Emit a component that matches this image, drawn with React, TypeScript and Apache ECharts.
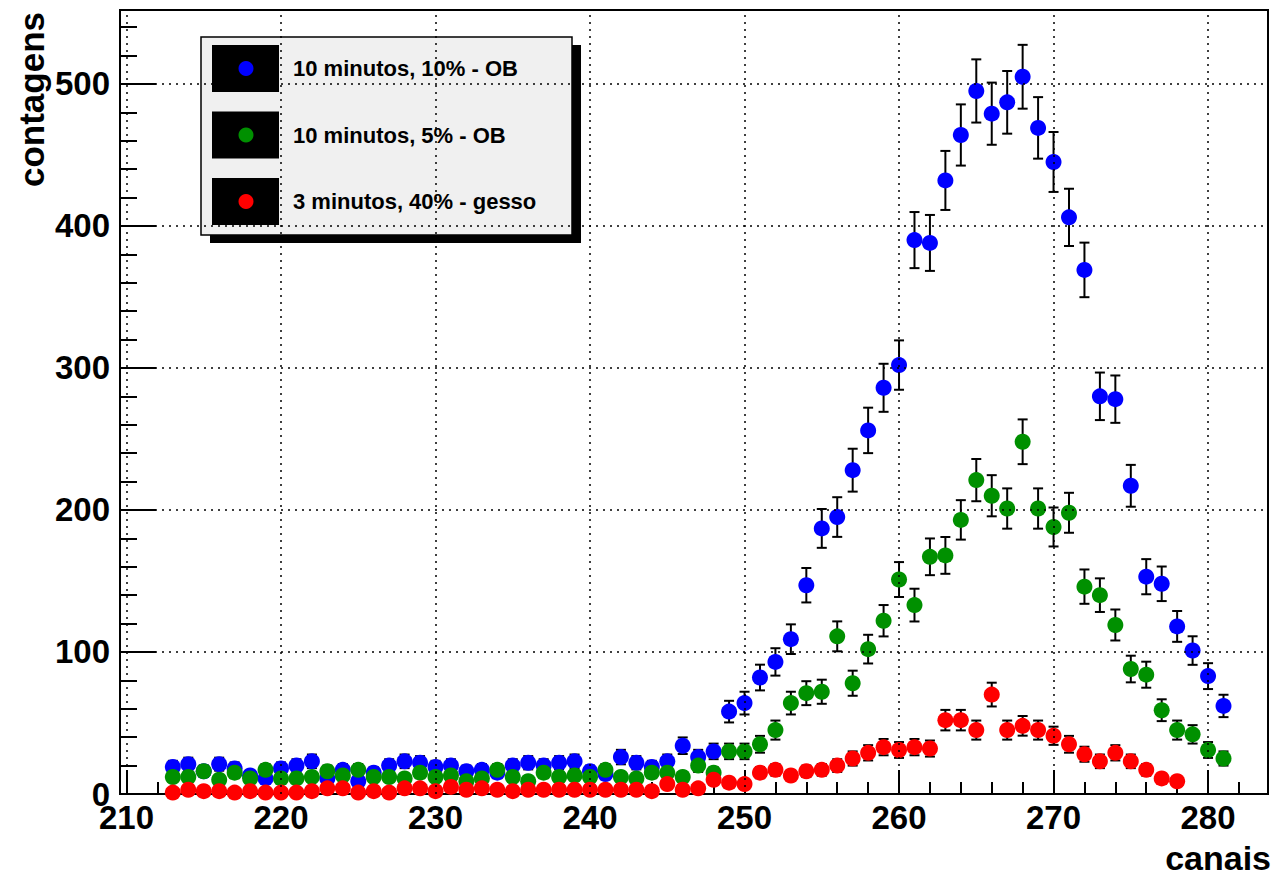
import React, { useEffect, useRef } from "react";
import * as echarts from "echarts";

// ---- data (channels and counts) ----
const channels = [
  213, 214, 215, 216, 217, 218, 219, 220, 221, 222,
  223, 224, 225, 226, 227, 228, 229, 230, 231, 232,
  233, 234, 235, 236, 237, 238, 239, 240, 241, 242,
  243, 244, 245, 246, 247, 248, 249, 250, 251, 252,
  253, 254, 255, 256, 257, 258, 259, 260, 261, 262,
  263, 264, 265, 266, 267, 268, 269, 270, 271, 272,
  273, 274, 275, 276, 277, 278, 279, 280, 281,
];

const blueCounts = [
  19, 21, 16, 21, 18, 13, 11, 18, 20, 23,
  11, 17, 9, 15, 20, 23, 22, 19, 20, 16,
  17, 15, 20, 22, 20, 22, 23, 16, 14, 26,
  22, 19, 23, 34, 26, 30, 58, 64, 82, 93,
  109, 147, 187, 195, 228, 256, 286, 302, 390, 388,
  432, 464, 495, 479, 487, 505, 469, 445, 406, 369,
  280, 278, 217, 153, 148, 118, 101, 83, 62,
];

const greenCounts = [
  12, 12, 16, 10, 15, 11, 17, 11, 11, 12,
  16, 13, 17, 12, 12, 11, 15, 12, 13, 9,
  11, 17, 12, 9, 15, 12, 13, 12, 17, 12,
  11, 15, 15, 12, 20, 15, 30, 30, 35, 45,
  64, 71, 72, 111, 78, 102, 122, 151, 133, 167,
  168, 193, 221, 210, 201, 248, 201, 188, 198, 146,
  140, 119, 88, 84, 59, 45, 42, 31, 25,
];

const redChannels = [
  213, 214, 215, 216, 217, 218, 219, 220, 221, 222,
  223, 224, 225, 226, 227, 228, 229, 230, 231, 232,
  233, 234, 235, 236, 237, 238, 239, 240, 241, 242,
  243, 244, 245, 246, 247, 248, 249, 250, 251, 252,
  253, 254, 255, 256, 257, 258, 259, 260, 261, 262,
  263, 264, 265, 266, 267, 268, 269, 270, 271, 272,
  273, 274, 275, 276, 277, 278,
];

const redCounts = [
  1, 3, 2, 2, 1, 2, 1, 1, 1, 2,
  4, 4, 1, 2, 1, 4, 4, 2, 5, 3,
  4, 3, 2, 3, 3, 3, 3, 3, 3, 3,
  3, 2, 7, 3, 4, 10, 8, 7, 15, 17,
  13, 16, 17, 20, 25, 29, 33, 31, 33, 32,
  52, 52, 45, 70, 45, 48, 45, 41, 35, 28,
  23, 29, 23, 17, 11, 9,
];

const seriesNames = ["10 minutos, 10% - OB", "10 minutos, 5% - OB", "3 minutos, 40% - gesso"];
const seriesColors = ["#0000ff", "#009000", "#ff0000"];

const xMajorTicks = [210, 220, 230, 240, 250, 260, 270, 280];
const xMinorTicks = [
  210, 212, 214, 216, 218, 220, 222, 224, 226, 228, 230, 232, 234, 236, 238,
  240, 242, 244, 246, 248, 250, 252, 254, 256, 258, 260, 262, 264, 266, 268,
  270, 272, 274, 276, 278, 280, 282,
];
const yMajorTicks = [0, 100, 200, 300, 400, 500];
const yMinorTicks = [
  0, 20, 40, 60, 80, 100, 120, 140, 160, 180, 200, 220, 240, 260, 280,
  300, 320, 340, 360, 380, 400, 420, 440, 460, 480, 500, 520, 540,
];

const xTitle = "canais";
const yTitle = "contagens";

const X_MIN = 209.58;
const X_MAX = 283.88;
const Y_MIN = 0;
const Y_MAX = 552;

const FONT = "Liberation Sans";

function buildSeries(xs: number[], ys: number[], name: string, color: string) {
  const errData = xs.map((x, i) => [x, ys[i], Math.sqrt(ys[i])]);
  const ptData = xs.map((x, i) => [x, ys[i]]);
  return [
    {
      type: "custom",
      name: name + " (erro)",
      xAxisIndex: 0,
      yAxisIndex: 0,
      clip: true,
      silent: true,
      z: 3,
      encode: { x: 0, y: 1 },
      data: errData,
      renderItem: (params: any, api: any) => {
        const x = api.value(0);
        const y = api.value(1);
        const e = api.value(2);
        const top = api.coord([x, y + e]);
        const bot = api.coord([x, y - e]);
        const hw = 5;
        const style = { stroke: "#000", lineWidth: 2 };
        return {
          type: "group",
          children: [
            { type: "line", shape: { x1: top[0], y1: top[1], x2: bot[0], y2: bot[1] }, style },
            { type: "line", shape: { x1: top[0] - hw, y1: top[1], x2: top[0] + hw, y2: top[1] }, style },
            { type: "line", shape: { x1: bot[0] - hw, y1: bot[1], x2: bot[0] + hw, y2: bot[1] }, style },
          ],
        };
      },
    },
    {
      type: "scatter",
      name,
      xAxisIndex: 0,
      yAxisIndex: 0,
      symbol: "circle",
      symbolSize: 16,
      z: 3,
      itemStyle: { color, opacity: 1 },
      data: ptData,
    },
  ];
}

export default function App() {
  const ref = useRef<HTMLDivElement>(null);

  useEffect(() => {
    if (!ref.current) return;
    const chart = echarts.init(ref.current, null, { renderer: "svg" });

    const tickLine = { color: "#000", width: 2 };
    const labelStyle = {
      color: "#000",
      fontFamily: FONT,
      fontWeight: "bold" as const,
      fontSize: 33,
      lineHeight: 24,
    };

    const legendY0 = 45;
    const legendStep = 66.5;
    const legendChildren: any[] = [
      { type: "rect", shape: { x: 210, y: 45, width: 371, height: 198 }, style: { fill: "#000" } },
      {
        type: "rect",
        shape: { x: 201, y: 37, width: 371, height: 198 },
        style: { fill: "#f0f0f0", stroke: "#000", lineWidth: 1.5 },
      },
    ];
    seriesNames.forEach((name, i) => {
      const y = legendY0 + i * legendStep;
      legendChildren.push(
        { type: "rect", shape: { x: 212, y, width: 67, height: 47 }, style: { fill: "#000" } },
        { type: "circle", shape: { cx: 246, cy: y + 23.5, r: 7.5 }, style: { fill: seriesColors[i] } },
        {
          type: "text",
          x: 293,
          y: y + 23.5,
          style: {
            text: name,
            fill: "#000",
            font: `bold 22px "${FONT}"`,
            verticalAlign: "middle",
            align: "left",
          },
        }
      );
    });

    const option: any = {
      animation: false,
      backgroundColor: "#fff",
      grid: {
        left: 120,
        right: 13,
        top: 10,
        bottom: 83,
        show: true,
        borderColor: "#000",
        borderWidth: 2,
        backgroundColor: "#fff",
        containLabel: false,
      },
      xAxis: [
        {
          type: "value",
          min: X_MIN,
          max: X_MAX,
          position: "bottom",
          axisLine: { show: true, onZero: false, lineStyle: tickLine },
          axisTick: { show: true, inside: true, length: 24, customValues: xMajorTicks, lineStyle: tickLine },
          axisLabel: { ...labelStyle, customValues: xMajorTicks, margin: 11 },
          splitLine: { show: false },
        },
        {
          type: "value",
          min: X_MIN,
          max: X_MAX,
          position: "bottom",
          axisLine: { show: false, onZero: false },
          axisTick: { show: true, inside: true, length: 12, customValues: xMinorTicks, lineStyle: tickLine },
          axisLabel: { show: false },
          splitLine: { show: false },
        },
      ],
      yAxis: [
        {
          type: "value",
          min: Y_MIN,
          max: Y_MAX,
          position: "left",
          axisLine: { show: true, onZero: false, lineStyle: tickLine },
          axisTick: { show: true, inside: true, length: 36, customValues: yMajorTicks, lineStyle: tickLine },
          axisLabel: { ...labelStyle, customValues: yMajorTicks, margin: 10 },
          splitLine: { show: false },
        },
        {
          type: "value",
          min: Y_MIN,
          max: Y_MAX,
          position: "left",
          axisLine: { show: false, onZero: false },
          axisTick: { show: true, inside: true, length: 17, customValues: yMinorTicks, lineStyle: tickLine },
          axisLabel: { show: false },
          splitLine: { show: false },
        },
      ],
      series: [
        {
          type: "scatter",
          name: "grade",
          xAxisIndex: 0,
          yAxisIndex: 0,
          data: [],
          silent: true,
          z: 1,
          markLine: {
            silent: true,
            symbol: ["none", "none"],
            label: { show: false },
            lineStyle: { color: "#000", type: [2, 5], width: 1.5 },
            data: [
              ...xMajorTicks.map((v) => ({ xAxis: v })),
              ...yMajorTicks.filter((v) => v > 0).map((v) => ({ yAxis: v })),
            ],
          },
        },
        ...buildSeries(channels, blueCounts, seriesNames[0], seriesColors[0]),
        ...buildSeries(channels, greenCounts, seriesNames[1], seriesColors[1]),
        ...buildSeries(redChannels, redCounts, seriesNames[2], seriesColors[2]),
      ],
      graphic: [
        {
          type: "text",
          x: 31,
          y: 12,
          rotation: Math.PI / 2,
          style: {
            text: yTitle,
            fill: "#000",
            font: `bold 35px "${FONT}"`,
            align: "right",
            verticalAlign: "middle",
          },
        },
        {
          type: "text",
          x: 1271,
          y: 858,
          style: {
            text: xTitle,
            fill: "#000",
            font: `bold 34px "${FONT}"`,
            align: "right",
            verticalAlign: "middle",
          },
        },
        { type: "group", z: 100, children: legendChildren },
      ],
    };

    chart.setOption(option);
    return () => chart.dispose();
  }, []);

  return (
    <div
      ref={ref}
      style={{ position: "fixed", left: 0, top: 0, width: 1281, height: 877 }}
    />
  );
}
